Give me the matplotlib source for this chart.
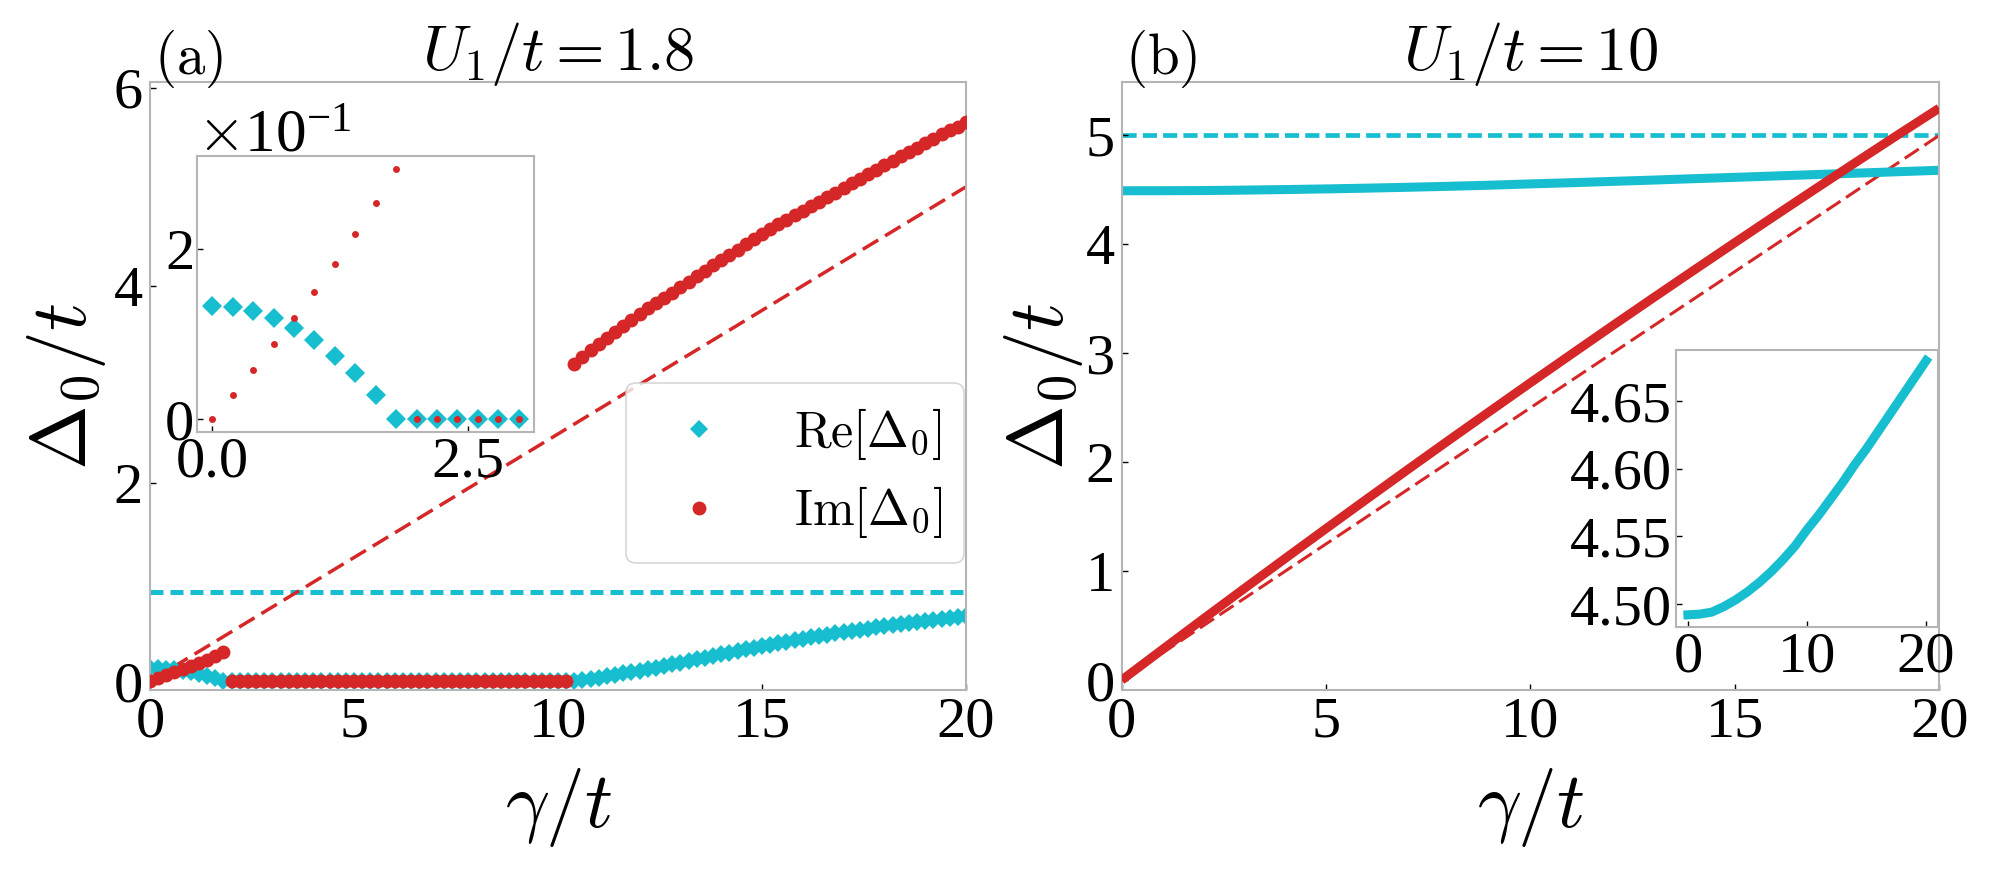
import numpy as np
import matplotlib
matplotlib.use('Agg')
import matplotlib.pyplot as plt
from matplotlib.ticker import MultipleLocator, ScalarFormatter

plt.rcParams['mathtext.fontset'] = 'cm'
plt.rcParams['font.family'] = ['Liberation Serif', 'DejaVu Serif']

CYAN = '#17becf'
RED = '#d62728'
SPINE = '#b5b5b5'

# ---------------- data: panel (a), U1/t = 1.8 ----------------
gamma_a = np.linspace(0, 20, 101)
re_a = ([0.133, 0.132, 0.127, 0.119, 0.107, 0.093, 0.075, 0.055, 0.029]
        + [0.0] * 43
        + [0.000, 0.012, 0.023, 0.035, 0.049, 0.063, 0.077, 0.091, 0.105,
           0.121, 0.137, 0.153, 0.169, 0.185, 0.202, 0.219, 0.236, 0.253,
           0.270, 0.287, 0.304, 0.321, 0.338, 0.355, 0.370, 0.385, 0.400,
           0.415, 0.430, 0.443, 0.456, 0.469, 0.482, 0.495, 0.507, 0.519,
           0.531, 0.543, 0.555, 0.566, 0.577, 0.588, 0.599, 0.610, 0.620,
           0.630, 0.640, 0.650, 0.660])
im_a = ([0.0, 0.029, 0.058, 0.089, 0.119, 0.150, 0.183, 0.218, 0.254, 0.295]
        + [0.0] * 42
        + [3.21, 3.28, 3.35, 3.41, 3.47, 3.53, 3.59, 3.65, 3.71, 3.77,
           3.82, 3.88, 3.93, 3.99, 4.04, 4.10, 4.15, 4.21, 4.26, 4.31,
           4.36, 4.42, 4.47, 4.52, 4.57, 4.62, 4.66, 4.71, 4.76, 4.81,
           4.85, 4.90, 4.94, 4.99, 5.04, 5.08, 5.13, 5.17, 5.22, 5.26,
           5.31, 5.35, 5.39, 5.44, 5.48, 5.53, 5.57, 5.61, 5.66])
n_inset_a = 16  # inset shows gamma/t = 0 ... 3.0

# reference (dashed) lines
ref_x = [0, 20]
ref_im = [0, 5]          # gamma/4
ref_re_a = [0.9, 0.9]    # U1/2
ref_re_b = [5.0, 5.0]    # U1/2

# ---------------- data: panel (b), U1/t = 10 ----------------
gamma_b = list(range(21))
re_b = [4.492, 4.4925, 4.494, 4.498, 4.503, 4.509, 4.516, 4.524, 4.533, 4.543,
        4.555, 4.566, 4.578, 4.590, 4.603, 4.615, 4.628, 4.641, 4.654, 4.667, 4.680]
im_b = [0.0, 0.282, 0.563, 0.841, 1.117, 1.391, 1.663, 1.933, 2.201, 2.466,
        2.730, 2.991, 3.251, 3.508, 3.763, 4.016, 4.267, 4.516, 4.763, 5.008, 5.250]

TICK_FS = 42
LABEL_FS = 56
TITLE_FS = 45


def style_axes(ax, labelsize=TICK_FS, pad=5):
    for sp in ax.spines.values():
        sp.set_color(SPINE)
        sp.set_linewidth(1.5)
    ax.tick_params(direction='in', length=4, width=1, color='black',
                   labelsize=labelsize, pad=pad)


fig = plt.figure(figsize=(20, 8.69), dpi=100)

# ---------------- panel (a) ----------------
ax1 = fig.add_axes([0.075, 0.206, 0.408, 0.6996])
ax1.plot(ref_x, ref_re_a, color=CYAN, lw=3.6, ls=(0, (2.6, 1.4)), zorder=1)
ax1.plot(ref_x, ref_im, color=RED, lw=2.5, ls=(0, (5.2, 2.3)), zorder=1)
l_re, = ax1.plot(gamma_a, re_a, ls='none', marker='D', ms=9.5, color=CYAN,
                 mew=0, label=r'$\mathrm{Re}[\Delta_0]$', zorder=2)
l_im, = ax1.plot(gamma_a, im_a, ls='none', marker='o', ms=10, color=RED,
                 mew=0, label=r'$\mathrm{Im}[\Delta_0]$', zorder=3)
ax1.set_xlim(0, 20)
ax1.set_ylim(-0.09, 6.06)
ax1.xaxis.set_major_locator(MultipleLocator(5))
ax1.yaxis.set_major_locator(MultipleLocator(2))
style_axes(ax1)
ax1.set_xlabel(r'$\gamma/t$', fontsize=LABEL_FS, labelpad=12)
ax1.set_ylabel(r'$\Delta_0/t$', fontsize=LABEL_FS, labelpad=4)
ax1.text(0.5, 1.02, r'$U_1/t=1.8$', transform=ax1.transAxes, fontsize=TITLE_FS,
         ha='center', va='baseline')
ax1.text(0.005, 1.013, r'$\mathrm{(a)}$', transform=ax1.transAxes, fontsize=41,
         ha='left', va='baseline')
leg = ax1.legend(handles=[l_re, l_im], loc='lower right',
                 bbox_to_anchor=(0.998, 0.209), borderaxespad=0, fontsize=36,
                 handletextpad=0.9, labelspacing=0.45, borderpad=0.45)
leg.get_frame().set_edgecolor('#cccccc')
leg.get_frame().set_linewidth(1.2)

# inset (a)
axi1 = fig.add_axes([0.0985, 0.5029, 0.1685, 0.3176])
axi1.plot(gamma_a[:n_inset_a], re_a[:n_inset_a], ls='none', marker='D', ms=9.8,
          color=CYAN, mew=0, zorder=2)
axi1.plot(gamma_a[:n_inset_a], im_a[:n_inset_a], ls='none', marker='o', ms=5,
          color=RED, mew=0, zorder=3)
axi1.xaxis.set_major_locator(MultipleLocator(2.5))
axi1.yaxis.set_major_locator(MultipleLocator(0.2))
fmt = ScalarFormatter(useMathText=True)
fmt.set_powerlimits((-1, -1))
axi1.yaxis.set_major_formatter(fmt)
style_axes(axi1, pad=3)
axi1.yaxis.get_offset_text().set_fontsize(44)

# ---------------- panel (b) ----------------
ax2 = fig.add_axes([0.5608, 0.206, 0.4088, 0.6996])
ax2.plot(ref_x, ref_re_b, color=CYAN, lw=3.4, ls=(0, (3.0, 1.3)), zorder=1)
ax2.plot(ref_x, ref_im, color=RED, lw=2.2, ls=(0, (5.5, 2.2)), zorder=1)
ax2.plot(gamma_b, re_b, color=CYAN, lw=6.5, solid_capstyle='butt', zorder=2)
ax2.plot(gamma_b, im_b, color=RED, lw=6.5, solid_capstyle='butt', zorder=3)
ax2.set_xlim(0, 20)
ax2.set_ylim(-0.09, 5.49)
ax2.xaxis.set_major_locator(MultipleLocator(5))
ax2.yaxis.set_major_locator(MultipleLocator(1))
style_axes(ax2)
ax2.set_xlabel(r'$\gamma/t$', fontsize=LABEL_FS, labelpad=12)
ax2.set_ylabel(r'$\Delta_0/t$', fontsize=LABEL_FS, labelpad=0)
ax2.text(0.5, 1.02, r'$U_1/t=10$', transform=ax2.transAxes, fontsize=TITLE_FS,
         ha='center', va='baseline')
ax2.text(0.004, 1.013, r'$\mathrm{(b)}$', transform=ax2.transAxes, fontsize=41,
         ha='left', va='baseline')

# inset (b)
axi2 = fig.add_axes([0.838, 0.2785, 0.131, 0.3188])
axi2.plot(gamma_b, re_b, color=CYAN, lw=6.5)
axi2.set_xlim(-1, 21)
axi2.set_ylim(4.483, 4.688)
axi2.xaxis.set_major_locator(MultipleLocator(10))
axi2.yaxis.set_major_locator(MultipleLocator(0.05))
axi2.yaxis.get_major_formatter().set_useOffset(False)
style_axes(axi2, pad=3)

fig.savefig('out.png', dpi=100)
